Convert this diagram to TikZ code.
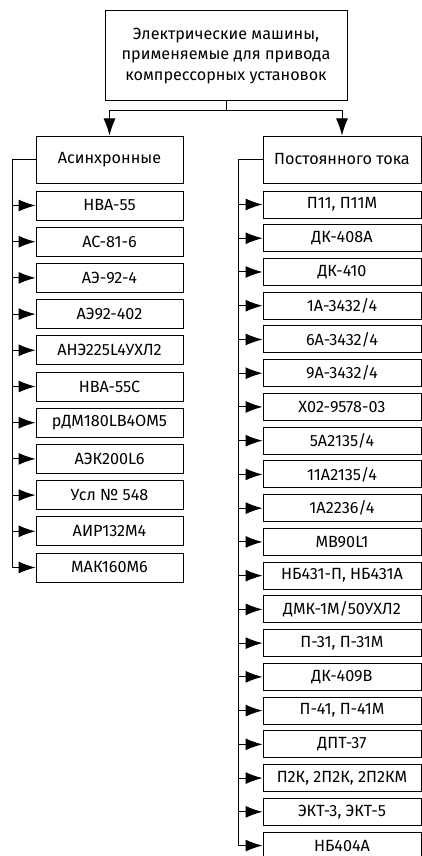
\documentclass[tikz,border=0pt]{standalone}
\usepackage{fontspec}
\setmainfont{Fira Sans}
\usetikzlibrary{arrows.meta,calc}
\begin{document}
\begin{tikzpicture}[x=1pt,y=-1pt,
  box/.style={draw,line width=1pt,rectangle,inner sep=0pt,font=\fontsize{16.2}{20.7}\selectfont},
  litem/.style={box,minimum width=147pt,minimum height=29pt},
  ritem/.style={box,minimum width=158pt,minimum height=27pt},
  conn/.style={line width=1pt},
  arr/.style={conn,-{Latex[length=17pt,width=12pt]}}]
\useasboundingbox (0,0) rectangle (422,856);
\node[box,minimum width=242pt,minimum height=90pt,align=center] (top) at (226,56)
  {Электрические машины,\\применяемые для привода\\компрессорных установок};
\node[box,minimum width=147pt,minimum height=47pt] (ha) at (109.5,159.5) {Асинхронные};
\node[box,minimum width=158pt,minimum height=47pt] (hb) at (342,159.5) {Постоянного тока};
\coordinate (j) at (226,111);
\draw[conn] (top.south) -- (j);
\draw[arr] (j) -| (ha.north);
\draw[arr] (j) -| (hb.north);
% left items
\foreach \t [count=\i] in {НВА-55,АС-81-6,АЭ-92-4,АЭ92-402,АНЭ225L4УХЛ2,НВА-55С,рДМ180LB4ОМ5,АЭК200L6,Усл № 548,АИР132М4,МАК160М6}{
  \node[litem] (l\i) at (109.5,{205.5+36.2*(\i-1)}) {\t};
}
\coordinate (lt) at (12,159.5);
\draw[arr] (ha.west) -- (lt) |- (l11.west);
\foreach \i in {1,...,10}{\draw[arr] (l\i.west -| lt) -- (l\i.west);}
% right items
\foreach \t [count=\i] in {П11{,} П11М,ДК-408А,ДК-410,1А-3432/4,6А-3432/4,9А-3432/4,Х02-9578-03,5А2135/4,11А2135/4,1А2236/4,МВ90L1,НБ431-П{,} НБ431А,ДМК-1М/50УХЛ2,П-31{,} П-31М,ДК-409В,П-41{,} П-41М,ДПТ-37,П2К{,} 2П2К{,} 2П2КМ,ЭКТ-3{,} ЭКТ-5,НБ404А}{
  \node[ritem] (r\i) at (342,{204.5+33.74*(\i-1)}) {\t};
}
\coordinate (rt) at (238,159.5);
\draw[arr] (hb.west) -- (rt) |- (r20.west);
\foreach \i in {1,...,19}{\draw[arr] (r\i.west -| rt) -- (r\i.west);}
\end{tikzpicture}
\end{document}
